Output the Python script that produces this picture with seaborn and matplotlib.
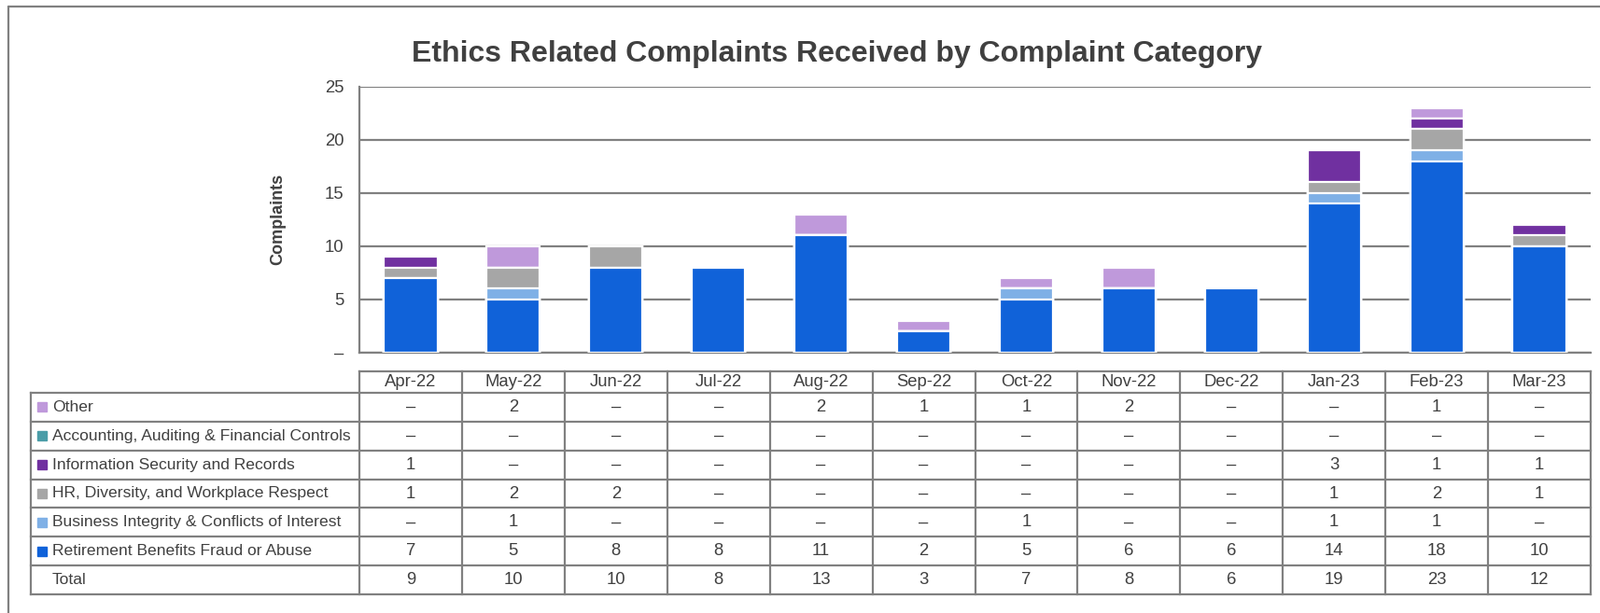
import numpy as np
import pandas as pd
import matplotlib
matplotlib.use("Agg")
import matplotlib.pyplot as plt
import matplotlib.font_manager as fm
from matplotlib.lines import Line2D
import seaborn as sns

# ---------------- data ----------------
months = ['Apr-22', 'May-22', 'Jun-22', 'Jul-22', 'Aug-22', 'Sep-22',
          'Oct-22', 'Nov-22', 'Dec-22', 'Jan-23', 'Feb-23', 'Mar-23']
other = [0, 2, 0, 0, 2, 1, 1, 2, 0, 0, 1, 0]
accounting = [0, 0, 0, 0, 0, 0, 0, 0, 0, 0, 0, 0]
info_security = [1, 0, 0, 0, 0, 0, 0, 0, 0, 3, 1, 1]
hr_diversity = [1, 2, 2, 0, 0, 0, 0, 0, 0, 1, 2, 1]
business_integrity = [0, 1, 0, 0, 0, 0, 1, 0, 0, 1, 1, 0]
retirement = [7, 5, 8, 8, 11, 2, 5, 6, 6, 14, 18, 10]

series_names = ['Other',
                'Accounting, Auditing & Financial Controls',
                'Information Security and Records',
                'HR, Diversity, and Workplace Respect',
                'Business Integrity & Conflicts of Interest',
                'Retirement Benefits Fraud or Abuse']
series_values = [other, accounting, info_security, hr_diversity,
                 business_integrity, retirement]
series_colors = ['#BF99DB', '#4B9DA8', '#7030A0', '#A6A6A6', '#7FB0E6', '#1062D9']

y_ticks = [0, 5, 10, 15, 20, 25]
y_tick_labels = ['\u2013', '5', '10', '15', '20', '25']

# ---------------- fonts ----------------
names = {f.name for f in fm.fontManager.ttflist}
if 'Liberation Sans Narrow' in names:
    FONT = 'Liberation Sans Narrow'
    fs, fs_lab = 14.5, 14.5
else:
    FONT = 'Liberation Sans'
    fs, fs_lab = 13.3, 12.6

sns.set_theme(style='white')
plt.rcParams['font.family'] = [FONT, 'DejaVu Sans']
TXT = '#404040'
LINE = '#808080'

W, H = 1714, 657
fig = plt.figure(figsize=(W / 100, H / 100), dpi=100)

# frame (top + left)
fig.add_artist(Line2D([9 / W, 9 / W], [0, 1 - 7 / H], color=LINE, lw=1.6,
                      transform=fig.transFigure))
fig.add_artist(Line2D([9 / W, 1], [1 - 7 / H, 1 - 7 / H], color=LINE, lw=1.6,
                      transform=fig.transFigure))

# ---------------- bar chart ----------------
ax_l, ax_r = 385 / W, 1704 / W
ax_top, ax_bot = 1 - 92.7 / H, 1 - 377.7 / H
ax = fig.add_axes([ax_l, ax_bot, ax_r - ax_l, ax_top - ax_bot])

# stacking order bottom -> top: retirement, business, hr, info, accounting, other
stack_order = list(range(len(series_values)))[::-1]
cum = np.zeros(len(months))
cums = {}
for i in stack_order:
    cum = cum + np.array(series_values[i])
    cums[i] = cum.copy()

# draw the tallest cumulative first, then cover with lower ones
for i in stack_order[::-1]:
    df = pd.DataFrame({'month': months, 'value': cums[i]})
    sns.barplot(data=df, x='month', y='value', color=series_colors[i],
                saturation=1, width=0.52, edgecolor='white', linewidth=1.6,
                ax=ax, zorder=3)

ax.set_xlim(-0.5, len(months) - 0.5)
ax.set_ylim(0, 25)
ax.set_yticks(y_ticks)
ax.set_yticklabels(y_tick_labels, fontsize=fs, color=TXT)
ax.tick_params(axis='y', length=0, pad=12)
ax.set_xticks([])
ax.set_xlabel('')
ax.set_ylabel('Complaints', fontsize=13, fontweight='bold', color=TXT,
              labelpad=30)
ax.yaxis.grid(True, color=LINE, lw=1.6, zorder=0)
ax.set_axisbelow(True)
for s in ['top', 'right']:
    ax.spines[s].set_visible(False)
for s in ['left', 'bottom']:
    ax.spines[s].set_color(LINE)
    ax.spines[s].set_linewidth(1.6)

fig.text(0.523, 1 - 58 / H, 'Ethics Related Complaints Received by Complaint Category',
         ha='center', va='center', fontsize=23, fontweight='bold', color=TXT)

# ---------------- data table ----------------
tb_left, tb_right = 32.7 / W, 1704 / W
tb_top, tb_bot = 1 - 397.7 / H, 1 - 637.3 / H
tax = fig.add_axes([tb_left, tb_bot, tb_right - tb_left, tb_top - tb_bot])
tax.set_axis_off()
col_w = (1704 - 385) / len(months)
x0 = -0.5 - (385 - 32.7) / col_w
hdr = 23.0 / ((637.3 - 420.7) / 7)
nrows = len(series_names) + 1
tax.set_xlim(x0, len(months) - 0.5)
tax.set_ylim(0, nrows + hdr)

lkw = dict(color=LINE, lw=1.6, clip_on=False, solid_capstyle='projecting')
for r in range(nrows + 1):
    tax.plot([x0, len(months) - 0.5], [r, r], **lkw)
tax.plot([-0.5, len(months) - 0.5], [nrows + hdr, nrows + hdr], **lkw)
tax.plot([x0, x0], [0, nrows], **lkw)
for c in range(len(months) + 1):
    tax.plot([c - 0.5, c - 0.5], [0, nrows + hdr], **lkw)

for c, m in enumerate(months):
    tax.text(c, nrows + hdr / 2, m, ha='center', va='center',
             fontsize=fs, color=TXT)

row_labels = series_names + ['Total']
totals = [sum(v[c] for v in series_values) for c in range(len(months))]
row_values = series_values + [totals]
for r, (lab, vals) in enumerate(zip(row_labels, row_values)):
    yc = nrows - r - 0.5
    if r < len(series_names):
        tax.plot([x0 + 0.112], [yc], marker='s', ms=6.5, color=series_colors[r],
                 clip_on=False, lw=0)
    tax.text(x0 + 0.212, yc, lab, ha='left', va='center', fontsize=fs_lab, color=TXT)
    for c, v in enumerate(vals):
        tax.text(c, yc, '\u2013' if v == 0 else str(v), ha='center', va='center',
                 fontsize=fs, color=TXT)

fig.savefig('out.png', dpi=100)
